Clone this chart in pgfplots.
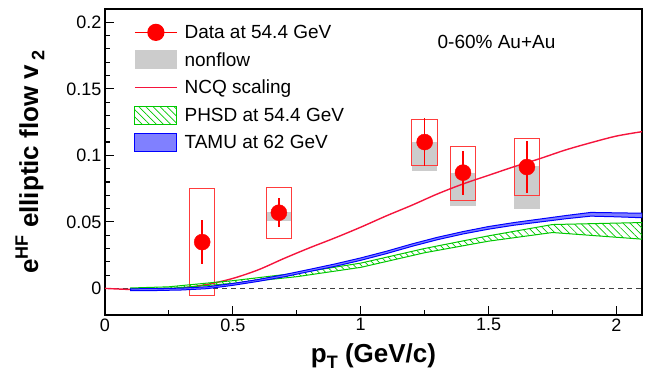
\documentclass[border=0pt]{standalone}
\usepackage{fontspec}
\setmainfont{Liberation Sans}
\usepackage{pgfplots}
\pgfplotsset{compat=1.18}
\usetikzlibrary{patterns.meta}
\definecolor{phsdgreen}{RGB}{0,200,0}
\definecolor{sysred}{RGB}{255,60,60}
\definecolor{nfgray}{RGB}{204,204,204}
\definecolor{tamublue}{RGB}{0,0,255}
\definecolor{tamufill}{RGB}{128,128,255}
\definecolor{ncqred}{RGB}{245,20,60}
\pgfplotsset{
  datalegend/.style={legend image code/.code={\draw[mark repeat=2,mark phase=2,##1] plot coordinates {(0pt,0pt) (21pt,0pt) (42pt,0pt)};}},
  filllegend/.style={legend image code/.code={\fill[##1] (0pt,-9.5pt) rectangle (42pt,9.5pt);}},
  linelegend/.style={legend image code/.code={\draw[##1] (0pt,0pt) -- (42pt,0pt);}},
  boxlegend/.style={legend image code/.code={\draw[##1] (0pt,-9pt) rectangle (42pt,9pt);}},
}
\begin{document}
\begin{tikzpicture}
\begin{axis}[
  scale only axis, width=537pt, height=306pt,
  xmin=0, xmax=2.1, ymin=-0.02, ymax=0.21,
  axis line style={line width=1.5pt},
  xtick={0,0.5,1,1.5,2}, ytick={0,0.05,0.1,0.15,0.2},
  minor x tick num=1, minor y tick num=4,
  tick align=inside, xtick pos=left, ytick pos=left,
  major tick length=9pt, minor tick length=5pt,
  every tick/.style={black, line width=1.1pt},
  scaled ticks=false,
  xticklabel style={/pgf/number format/fixed},
  yticklabel style={/pgf/number format/fixed, /pgf/number format/precision=2},
  /pgf/number format/assume math mode=true,
  tick label style={font=\fontsize{18}{20}\selectfont},
  xlabel={\textbf{p\raisebox{-0.45ex}{\fontsize{18}{18}\selectfont T} (GeV/c)}},
  ylabel={\textbf{e\raisebox{0.75ex}{\fontsize{18}{18}\selectfont HF} elliptic flow v\,\raisebox{-0.45ex}{\fontsize{18}{18}\selectfont 2}}},
  label style={font=\fontsize{26}{28}\selectfont},
  xlabel style={at={(axis description cs:0.5,-0.154)}, anchor=base},
  ylabel style={at={(axis description cs:-0.14,0.5)}, anchor=center},
  legend style={at={(axis description cs:0.054,0.955)}, anchor=north west,
    draw=none, fill=none, font=\fontsize{19}{21}\selectfont, row sep=8.5pt,
    column sep=5pt, inner sep=0pt},
  legend cell align=left,
]
% nonflow gray
\addplot[fill=nfgray, draw=none, forget plot] coordinates {(0.63,0.0506) (0.73,0.0506) (0.73,0.0574) (0.63,0.0574)} -- cycle;
\addplot[fill=nfgray, draw=none, forget plot] coordinates {(1.20,0.088) (1.30,0.088) (1.30,0.110) (1.20,0.110)} -- cycle;
\addplot[fill=nfgray, draw=none, forget plot] coordinates {(1.35,0.062) (1.45,0.062) (1.45,0.087) (1.35,0.087)} -- cycle;
\addplot[fill=nfgray, draw=none, forget plot] coordinates {(1.60,0.060) (1.70,0.060) (1.70,0.092) (1.60,0.092)} -- cycle;
% systematic boxes
\addplot[draw=sysred, line width=1pt, forget plot] coordinates {(0.33,-0.005) (0.43,-0.005) (0.43,0.075) (0.33,0.075)} -- cycle;
\addplot[draw=sysred, line width=1pt, forget plot] coordinates {(0.63,0.0374) (0.73,0.0374) (0.73,0.0757) (0.63,0.0757)} -- cycle;
\addplot[draw=sysred, line width=1pt, forget plot] coordinates {(1.20,0.0927) (1.30,0.0927) (1.30,0.127) (1.20,0.127)} -- cycle;
\addplot[draw=sysred, line width=1pt, forget plot] coordinates {(1.35,0.0664) (1.45,0.0664) (1.45,0.107) (1.35,0.107)} -- cycle;
\addplot[draw=sysred, line width=1pt, forget plot] coordinates {(1.60,0.0697) (1.70,0.0697) (1.70,0.1123) (1.60,0.1123)} -- cycle;
% zero line
\addplot[black!75, line width=0.8pt, dash pattern=on 5pt off 4pt, forget plot] coordinates {(0,0) (2.1,0)};
% NCQ scaling
\addplot[ncqred, line width=1.4pt, smooth, forget plot] coordinates {
(0,0) (0.1,-0.0008) (0.2,-0.0008) (0.3,0.0002) (0.4,0.003) (0.5,0.0075)
(0.6,0.014) (0.7,0.0225) (0.8,0.0305) (0.9,0.038) (1.0,0.046) (1.1,0.0545)
(1.2,0.0625) (1.3,0.071) (1.4,0.0785) (1.5,0.085) (1.6,0.0915) (1.7,0.0975)
(1.8,0.104) (1.9,0.1095) (2.0,0.1145) (2.1,0.1178)};
% PHSD band
\addplot[draw=phsdgreen, line width=1pt, pattern={Lines[angle=135, distance=5pt, line width=0.7pt]}, pattern color=phsdgreen, forget plot] coordinates {
(0.1,0.0003) (0.25,0.0012) (0.4,0.004) (0.5,0.0058) (0.75,0.0115) (1.0,0.019)
(1.25,0.030) (1.5,0.0395) (1.75,0.048) (2.1,0.0495)
(2.1,0.037) (1.75,0.042) (1.5,0.0355) (1.25,0.0268) (1.0,0.0158) (0.75,0.0088)
(0.5,0.0038) (0.4,0.0022) (0.25,0.0) (0.1,-0.0007)} -- cycle;
% TAMU band
\addplot[draw=tamublue, line width=1pt, fill=tamufill, forget plot] coordinates {
(0.1,-0.0003) (0.2,-0.0002) (0.3,0.0002) (0.4,0.0012) (0.5,0.0037) (0.6,0.0067)
(0.7,0.0103) (0.8,0.0143) (0.9,0.0184) (1.0,0.0229) (1.1,0.0279) (1.2,0.0334)
(1.3,0.0384) (1.4,0.0427) (1.5,0.0465) (1.6,0.0495) (1.7,0.0521) (1.8,0.0547)
(1.9,0.0571) (2.0,0.0568) (2.1,0.0565)
(2.1,0.0531) (2.0,0.0538) (1.9,0.0543) (1.8,0.0523) (1.7,0.0499) (1.6,0.0475)
(1.5,0.0445) (1.4,0.0409) (1.3,0.0366) (1.2,0.0316) (1.1,0.0261) (1.0,0.0211)
(0.9,0.0166) (0.8,0.0127) (0.7,0.0087) (0.6,0.0053) (0.5,0.0023) (0.4,-0.0002)
(0.3,-0.0012) (0.2,-0.0016) (0.1,-0.0017)} -- cycle;
% data
\addplot[red, only marks, mark=*, mark size=8pt, forget plot,
  error bars/.cd, y dir=both, y explicit, error mark=none,
  error bar style={red, line width=1.6pt}] coordinates {
(0.38,0.0348) +- (0,0.0165)
(0.68,0.0569) +- (0,0.011)
(1.25,0.110) +- (0,0.018)
(1.40,0.087) +- (0,0.0165)
(1.65,0.0912) +- (0,0.0197)};
\node[font=\fontsize{19}{21}\selectfont] at (axis cs:1.531,0.1855) {0-60\% Au+Au};
% legend
\addlegendimage{datalegend, red, line width=1.2pt, mark=*, mark size=8pt}
\addlegendentry{Data at 54.4 GeV}
\addlegendimage{filllegend, fill=nfgray, draw=none}
\addlegendentry{nonflow}
\addlegendimage{linelegend, ncqred, line width=1.4pt}
\addlegendentry{NCQ scaling}
\addlegendimage{boxlegend, draw=phsdgreen, line width=1pt, pattern={Lines[angle=135, distance=5pt, line width=0.7pt]}, pattern color=phsdgreen}
\addlegendentry{PHSD at 54.4 GeV}
\addlegendimage{boxlegend, draw=tamublue, line width=1pt, fill=tamufill}
\addlegendentry{TAMU at 62 GeV}
\end{axis}
\path ([xshift=-105pt,yshift=-63pt]current axis.south west) rectangle ([xshift=7pt,yshift=9pt]current axis.north east);
\end{tikzpicture}
\end{document}
